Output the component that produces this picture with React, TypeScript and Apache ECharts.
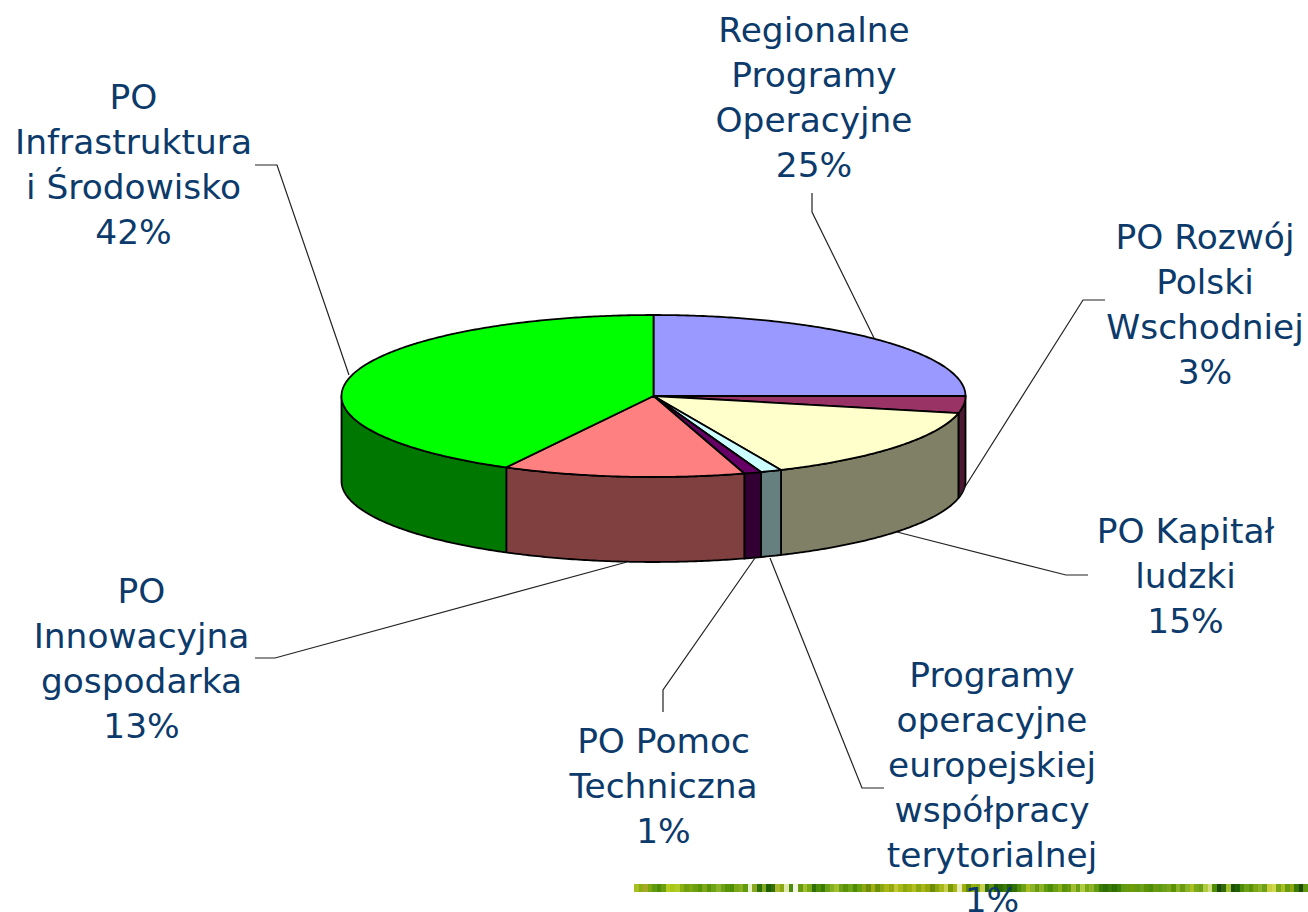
import React, { useEffect, useRef } from "react";
import * as echarts from "echarts";

const categories = [
  "Regionalne\nProgramy\nOperacyjne",
  "PO Rozwój\nPolski\nWschodniej",
  "PO Kapitał\nludzki",
  "Programy\noperacyjne\neuropejskiej\nwspółpracy\nterytorialnej",
  "PO Pomoc\nTechniczna",
  "PO\nInnowacyjna\ngospodarka",
  "PO\nInfrastruktura\ni Środowisko",
];
const values = [25.0, 3.4, 14.9, 1.1, 0.9, 12.52, 42.18];
const topColors = ["#9999FF", "#993366", "#FFFFCC", "#CCFFFF", "#660066", "#FF8080", "#00FF00"];
const sideColors = ["#4C4C80", "#4C1933", "#808066", "#668080", "#330033", "#804040", "#007800"];
const labelAnchors: [number, number][] = [
  [814, 7], [1205, 214], [1185.5, 508], [992, 652], [663.5, 718], [141.5, 568], [133.5, 74],
];
const leaderLines: [number, number][][] = [
  [[812, 193], [812, 212], [874, 338]],
  [[1105, 300], [1083, 300], [958, 498]],
  [[1088, 575], [1066, 575], [897, 532]],
  [[884, 788], [862, 788], [770, 558]],
  [[663, 712], [663, 690], [755, 558]],
  [[255, 658], [275, 658], [627, 562]],
  [[255, 165], [277, 165], [349, 375]],
];
const stripColors = [
  "#A8C020","#8BAE10","#A8A828","#7CA810","#5F9A10","#4F8C08","#6AA010","#B4CC20","#A8C818","#B0CC28",
  "#8AB010","#70A010","#7CA810","#6CA010","#5C9408","#7AA818","#5A9208","#6EA418","#8CB428","#6CA018",
  "#5A9208","#4F8C08","#7AA818","#86B020","#5F9A10","#E8F0C8","#88A820","#2E7005","#80A820","#1F5F05",
  "#356E05","#A8B830","#8AA810","#E0E8B0","#4F8A10","#F0F4E0","#6A9A10","#9CC030","#7AA818","#2E7005",
  "#4F8C08","#3A7A08","#6CA018","#86B020","#A0C030","#6CA018","#5A9208","#6EA418","#4F8C08","#6AA010",
  "#8CA810","#6E8C08","#A0B010","#6E9008","#8CA810","#A8B818","#96A810","#C0C838","#A8B818","#8CA810",
  "#A0B010","#B0C020","#8AA810","#A8B818","#96A810","#6E8C08","#8CA810","#A8B818","#C8D050","#7A9808",
  "#A8B818","#E8ECB8","#A0B010","#5F8A08","#96B010","#8CA810","#C8D050","#2E6A05","#5F9010","#1F5A05",
  "#2E6A05","#3A7A08","#1F5F05","#2E7005","#4F8C08","#6CA018","#A8C020","#8CB428","#6A9A10","#8CB428",
  "#5F9A10","#4F8C08","#6CA018","#88B018","#5A9208","#6A9A10","#A0C030","#6CA018","#B0CC40","#7AA818",
  "#8CB428","#5F9A10","#3A7A08","#2E7005","#3A7A08","#2E7005","#3F7F08","#5F9A10","#6A9A10","#6E9C08",
  "#5F9A10","#6CA018","#5A9208","#4F8C08","#6A9A10","#5F9A10","#6CA018","#7AA818","#5A9208","#8CB428",
  "#6A9A10","#8CB428","#A8C020","#7AA818","#6CA018","#B0CC40","#D0DC80","#4F8C08","#1A4A05","#2E6A05",
  "#A0C030","#1A5205","#1F5F05","#4F8C08","#6CA018","#5A9208","#7AA818","#8CB428","#6CA018","#C8D040",
  "#D0D850","#7AA818","#A8C020","#6A9A10","#8CA810","#3A7A08","#1F4A05","#5F9A10",
];

const CX = 653.5, CY = 396, RX = 312, RY = 81, DEPTH = 85;
const total = values.reduce((a, b) => a + b, 0);

const pt = (a: number, dy = 0): [number, number] => [CX + RX * Math.sin(a), CY - RY * Math.cos(a) + dy];

function arcPoints(a0: number, a1: number, dy: number) {
  const n = Math.max(2, Math.ceil(Math.abs(a1 - a0) / 0.01));
  const pts: [number, number][] = [];
  for (let i = 0; i <= n; i++) pts.push(pt(a0 + ((a1 - a0) * i) / n, dy));
  return pts;
}

function renderSlice(params: any, api: any) {
  const i = params.dataIndex;
  let before = 0;
  for (let k = 0; k < i; k++) before += values[k];
  const v = api.value(0);
  const a0 = (before / total) * Math.PI * 2;
  const a1 = ((before + v) / total) * Math.PI * 2;
  const children: any[] = [];
  const s0 = Math.max(a0, Math.PI / 2);
  const s1 = Math.min(a1, (Math.PI * 3) / 2);
  if (s1 > s0) {
    const pts = [...arcPoints(s0, s1, 0), ...arcPoints(s1, s0, DEPTH)];
    children.push({
      type: "polygon",
      shape: { points: pts },
      style: { fill: sideColors[i], stroke: "#000", lineWidth: 1.8, lineJoin: "round" },
    });
  }
  children.push({
    type: "polygon",
    shape: { points: [[CX, CY], ...arcPoints(a0, a1, 0)] },
    style: { fill: topColors[i], stroke: "#000", lineWidth: 1.8, lineJoin: "round" },
  });
  children.push({
    type: "polyline",
    shape: { points: leaderLines[i] },
    style: { fill: "none", stroke: "#222", lineWidth: 1.2 },
  });
  children.push({
    type: "text",
    x: labelAnchors[i][0],
    y: labelAnchors[i][1],
    z2: 20,
    style: {
      text: `${categories[i]}\n${Math.round((v / total) * 100)}%`,
      fill: "#0B3A6B",
      font: '34.4px "DejaVu Sans"',
      align: "center",
      verticalAlign: "top",
      lineHeight: 45,
    },
  });
  return { type: "group", children };
}

export default function App() {
  const ref = useRef<HTMLDivElement>(null);
  useEffect(() => {
    const chart = echarts.init(ref.current!, undefined, { renderer: "svg" });
    const W = 674, n = stripColors.length;
    chart.setOption({
      animation: false,
      backgroundColor: "#fff",
      graphic: [
        ...stripColors.map((c, i) => ({
          type: "rect",
          z: -1,
          shape: { x: Math.round(634 + (W * i) / n), y: 884, width: Math.ceil(W / n) + 1, height: 8 },
          style: { fill: c },
        })),
      ],
      series: [
        {
          type: "custom",
          coordinateSystem: "none",
          renderItem: renderSlice,
          data: values.map((v, i) => ({ name: categories[i], value: [v] })),
          z: 2,
        },
      ],
    });
    return () => chart.dispose();
  }, []);
  return <div ref={ref} style={{ position: "fixed", left: 0, top: 0, width: 1308, height: 912 }} />;
}
